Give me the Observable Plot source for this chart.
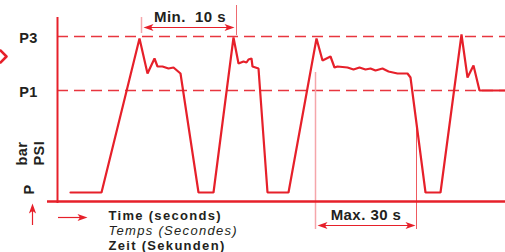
<!DOCTYPE html>
<html>
<head>
<meta charset="utf-8">
<script src="https://cdn.jsdelivr.net/npm/d3@7"></script>
<script src="https://cdn.jsdelivr.net/npm/@observablehq/plot@0.6"></script>
<style>
  html, body { margin: 0; padding: 0; background: #fff; }
  #chart svg { display: block; }
  #chart svg text { letter-spacing: 0.45px; }
  #chart svg text.timelabel { letter-spacing: 1.3px; }
</style>
</head>
<body>
<div id="chart"></div>
<script>
// Pressure curve (schematic time units, pressure units)
const time = [13,44,82,90,97,100,105,108,111,116,123,141,156,176,181,186,189,191,194,195,201,210,231,259,265,273,277,280,290,296,302,308,313,318,325,331,340,350,353,368,383,404,410,416,422,448];
const pressure = [9,9,163,128,143,135,135,134,133,134,128,9,9,164,138,140,139,142,143,135,133,9,9,163,141,145,134,135,134,132,134,132,133,131,133,130,128,128,124,9,9,167,124,136,111,111];

// Reference pressure levels
const levelNames = ["P3", "P1"];
const levelValues = [165, 111];

// Annotations: Min. 10 s (start/end time), Max. 30 s (start/end time)
const minSpan = [84, 179];
const maxSpan = [258, 359];

// Texts
const minLabel = "Min.  10 s";
const maxLabel = "Max. 30 s";
const timeLabels = ["Time (seconds)", "Temps (Secondes)", "Zeit (Sekunden)"];
const unitLabels = ["bar", "PSI"];
const pLabel = "P";

const red = "#e6202a";
const pink = "#f5a6ab";
const ink = "#231f20";
const font = "'Liberation Sans', Arial, Helvetica, sans-serif";

const curve = time.map((t, i) => ({t, p: pressure[i]}));
const levels = levelNames.map((name, i) => ({name, value: levelValues[i]}));

// filled arrowhead symbol, tip at origin, pointing right
const arrowHead = {
  draw(ctx) {
    ctx.moveTo(0, 0);
    ctx.lineTo(-10, -3.6);
    ctx.lineTo(-7.5, 0);
    ctx.lineTo(-10, 3.6);
    ctx.closePath();
  }
};

const heads = [
  {t: minSpan[0] + 2, p: 174, a: 180},
  {t: minSpan[1] - 2, p: 174, a: 0},
  {t: maxSpan[0] + 2, p: -24, a: 180},
  {t: maxSpan[1] - 1, p: -24, a: 0},
  {t: 30, p: -16, a: 0},
  {t: -25, p: -2, a: -90}
];

const chart = Plot.plot({
  width: 505,
  height: 252,
  marginLeft: 57,
  marginRight: 0,
  marginTop: 17,
  marginBottom: 51,
  x: {domain: [0, 448], axis: null},
  y: {domain: [0, 184], axis: null},
  style: {background: "white", fontFamily: font, overflow: "visible"},
  marks: [
    // dashed pressure levels
    Plot.ruleY(levels, {y: "value", x1: 0, x2: 448, stroke: red, strokeWidth: 1.4, strokeDasharray: "11,6", strokeOpacity: 0.9}),
    // Min. 10 s ticks
    Plot.ruleX([minSpan[0]], {y1: 168, y2: 184, stroke: pink, strokeWidth: 1.5}),
    Plot.ruleX([minSpan[1]], {y1: 166, y2: 196, stroke: "#ee6a70", strokeWidth: 1}),
    Plot.ruleY([174], {x1: minSpan[0] + 4, x2: minSpan[1] - 4, stroke: red, strokeWidth: 1.2}),
    Plot.text([minLabel], {x: (minSpan[0] + minSpan[1]) / 2 + 1, y: 180, text: d => d, textAnchor: "middle", lineAnchor: "bottom", fontSize: 15, fontWeight: "bold", fill: ink}),
    // Max. 30 s lines
    Plot.ruleX([maxSpan[0]], {y1: -28, y2: 129, stroke: pink, strokeWidth: 1.5}),
    Plot.ruleX([maxSpan[1]], {y1: -28, y2: 73, stroke: "#ee5a60", strokeWidth: 1}),
    Plot.ruleY([-24], {x1: maxSpan[0] + 4, x2: maxSpan[1] - 4, stroke: red, strokeWidth: 1.2}),
    Plot.text([maxLabel], {x: (maxSpan[0] + maxSpan[1]) / 2, y: -18, text: d => d, textAnchor: "middle", lineAnchor: "bottom", fontSize: 15, fontWeight: "bold", fill: ink}),
    // pressure curve
    Plot.line(curve, {x: "t", y: "p", stroke: red, strokeWidth: 2.2, strokeLinejoin: "miter", curve: "linear"}),
    // axes
    Plot.ruleX([0], {y1: -2, y2: 184, stroke: red, strokeWidth: 2}),
    Plot.ruleY([0], {x1: -10, x2: 448, stroke: red, strokeWidth: 2.5}),
    // direction arrows
    Plot.ruleY([-16], {x1: 1, x2: 24, stroke: red, strokeWidth: 1.2}),
    Plot.ruleX([-25], {y1: -24, y2: -7, stroke: red, strokeWidth: 1.2}),
    Plot.dot(heads, {x: "t", y: "p", rotate: "a", symbol: arrowHead, fill: red, stroke: "none", r: 5}),
    // left chevron
    Plot.line([{t: -57, p: 151}, {t: -51, p: 145}, {t: -57, p: 139}], {x: "t", y: "p", stroke: red, strokeWidth: 2.5}),
    // level labels
    Plot.text(levels, {x: -29, y: d => d.value - 1.5, text: "name", textAnchor: "middle", fontSize: 14.5, fontWeight: "bold", fill: ink}),
    // unit labels (rotated)
    Plot.text([unitLabels[0]], {x: -35, y: 36, text: d => d, rotate: -90, textAnchor: "start", lineAnchor: "middle", fontSize: 14.5, fontWeight: "bold", fill: ink}),
    Plot.text([unitLabels[1]], {x: -18, y: 36, text: d => d, rotate: -90, textAnchor: "start", lineAnchor: "middle", fontSize: 14.5, fontWeight: "bold", fill: ink}),
    Plot.text([pLabel], {x: -28, y: 7, text: d => d, rotate: -90, textAnchor: "start", lineAnchor: "middle", fontSize: 14.5, fontWeight: "bold", fill: ink}),
    // time labels (one three-line text block)
    Plot.text([timeLabels.join("\n")], {x: 51, y: -48, text: d => d, textAnchor: "start", lineAnchor: "bottom", lineHeight: 15 / 13, fontSize: 13, fontWeight: "bold", fill: ink})
  ]
});

// time label block: wider tracking; second line italic, regular weight
d3.select(chart).selectAll("tspan")
  .filter(function() { return timeLabels.includes(this.textContent); })
  .each(function() { this.parentNode.setAttribute("class", "timelabel"); });
d3.select(chart).selectAll("tspan")
  .filter(function() { return this.textContent === timeLabels[1]; })
  .style("font-weight", "normal")
  .style("font-style", "italic");

document.getElementById("chart").appendChild(chart);
</script>
</body>
</html>
